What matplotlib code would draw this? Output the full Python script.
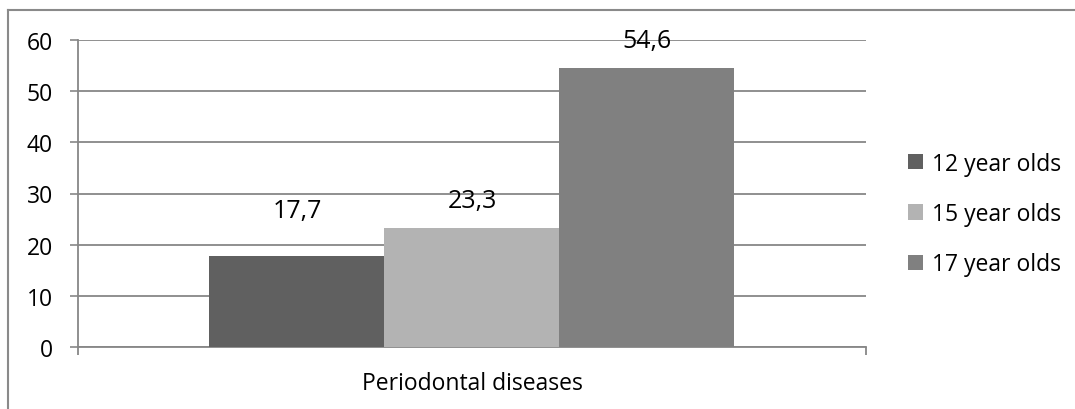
import matplotlib
matplotlib.use("Agg")
import matplotlib.pyplot as plt
from matplotlib.lines import Line2D

plt.rcParams['font.family'] = ['Open Sans', 'DejaVu Sans']

categories = ["Periodontal diseases"]
series_names = ["12 year olds", "15 year olds", "17 year olds"]
values = [17.7, 23.3, 54.6]
value_labels = ["17,7", "23,3", "54,6"]
y_ticks = [0, 10, 20, 30, 40, 50, 60]

colors = ["#606060", "#b3b3b3", "#808080"]
label_offsets = [33, 19.5, 19.5]  # points from bar top to label centre

fig = plt.figure(figsize=(10.75, 4.10), dpi=100)
fig.patch.set_facecolor("white")
ax = fig.add_axes([78 / 1075, 1 - 348 / 410, (866 - 78) / 1075, (348 - 41) / 410])

grid_col = "#878787"
bar_w = 175 / 788
n = len(series_names)
for i, (name, v, lab) in enumerate(zip(series_names, values, value_labels)):
    x = (i - (n - 1) / 2) * bar_w
    ax.bar(x, v, width=bar_w, color=colors[i], label=name, zorder=3)
    ax.annotate(lab, (x, v), xytext=(0, label_offsets[i]), textcoords="offset points",
                ha="center", va="center", fontsize=18, color="black", zorder=4)

ax.set_xlim(-0.5, 0.5)
ax.set_ylim(0, 60)
ax.set_yticks(y_ticks)
ax.tick_params(axis="y", labelsize=16.5, length=6, width=1.2, color=grid_col, pad=12)
ax.yaxis.grid(True, color=grid_col, linewidth=1.3, zorder=0)
ax.set_axisbelow(True)

ax.set_xticks([0])
ax.set_xticklabels(categories, fontsize=16.5)
ax.tick_params(axis="x", which="major", length=0, pad=17)
ax.set_xticks([-0.5, 0.5], minor=True)
ax.tick_params(axis="x", which="minor", length=6, width=1.3, color=grid_col)

for s in ["top", "right"]:
    ax.spines[s].set_visible(False)
for s in ["left", "bottom"]:
    ax.spines[s].set_color(grid_col)
    ax.spines[s].set_linewidth(1.3)

fig.legend(loc="center left", bbox_to_anchor=(908 / 1075, 1 - 215 / 410),
           frameon=False, fontsize=16.5, handlelength=0.65, handleheight=0.65,
           handletextpad=0.4, labelspacing=1.15, borderaxespad=0, borderpad=0)

# outer chart frame (left and top edges)
fig.add_artist(Line2D([8 / 1075, 8 / 1075], [0, 1 - 11 / 410], transform=fig.transFigure,
                      color="#8a8a8a", linewidth=1.5))
fig.add_artist(Line2D([8 / 1075, 1], [1 - 11 / 410, 1 - 11 / 410], transform=fig.transFigure,
                      color="#8a8a8a", linewidth=1.5))

fig.savefig("out.png", dpi=100, facecolor="white")
